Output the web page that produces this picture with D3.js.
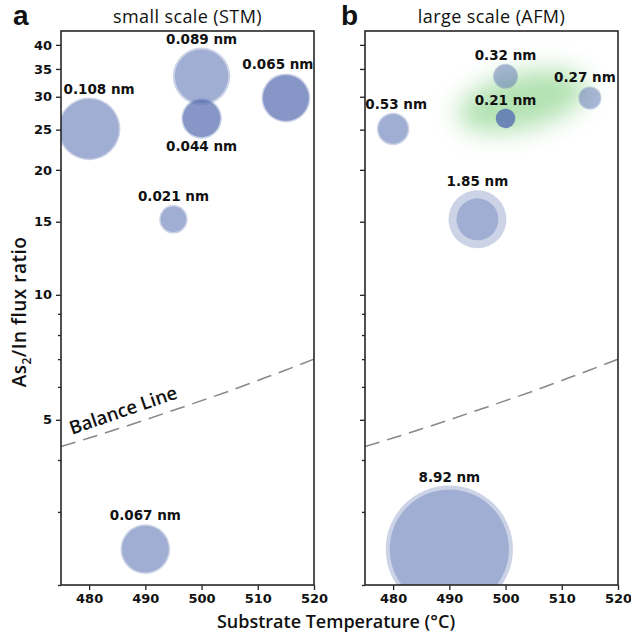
<!DOCTYPE html>
<html>
<head>
<meta charset="utf-8">
<script src="https://cdn.jsdelivr.net/npm/d3@7"></script>
<style>
  body { margin: 0; background: #fff; }
  .tick text { font-family: "DejaVu Sans", sans-serif; font-weight: bold; font-size: 13px; fill: #111; }
  .domain { display: none; }
  .ptlabel { font-family: "DejaVu Sans", sans-serif; font-weight: bold; font-size: 13.5px; fill: #111; }
</style>
</head>
<body>
<div id="chart"></div>
<script>

// Data: growth temperature, flux ratio, roughness (nm)
var stmTemp  = [480, 500, 500, 515, 495, 490];
var stmRatio = [25.1, 33.6, 26.6, 29.8, 15.2, 2.44];
var stmRough = [0.108, 0.089, 0.044, 0.065, 0.021, 0.067];

var afmTemp  = [480, 500, 500, 515, 495, 490];
var afmRatio = [25.1, 33.6, 26.6, 29.8, 15.2, 2.44];
var afmRough = [0.53, 0.32, 0.21, 0.27, 1.85, 8.92];

// balance line (flux ratio vs temperature)
var balanceTemp  = [475, 480, 485, 490, 495, 500, 505, 510, 515, 520];
var balanceRatio = [4.31, 4.52, 4.75, 5.00, 5.27, 5.56, 5.87, 6.22, 6.59, 7.00];

var xTicks = [480, 490, 500, 510, 520];
var yMajor = [5, 10, 15, 20, 25, 30, 35, 40];
var yMinor = [2, 3, 4, 6, 7, 8, 9];


// --> CREATE SVG DRAWING AREA
var width = 631,
    height = 636,
    top_y = 31,
    bottom_y = 585;

var svg = d3.select("#chart").append("svg")
    .attr("width", width)
    .attr("height", height);

var defs = svg.append("defs");
defs.append("filter")
    .attr("id", "blur")
    .attr("x", "-50%").attr("y", "-80%")
    .attr("width", "200%").attr("height", "260%")
    .append("feGaussianBlur")
    .attr("stdDeviation", 12);

var BLUE = "#576eb1";

var y = d3.scaleLog()
    .domain([2, 43.2])
    .range([bottom_y, top_y]);

// panel setup, with a few label nudges and looks per point
var panels = [
    { letter: "a", title: "small scale (STM)", left: 61, right: 314,
      temp: stmTemp, ratio: stmRatio, rough: stmRough, rmax: 30.6, labels: true,
      dx: [10, 0, 0, -8, 0, 0], below: [false, false, true, false, false, false],
      alpha: [0.37, 0.37, 0.6, 0.6, 0.37, 0.37], halo: [1.5, 2, 1.5, 1.5, 1.5, 1.5] },
    { letter: "b", title: "large scale (AFM)", left: 365, right: 618,
      temp: afmTemp, ratio: afmRatio, rough: afmRough, rmax: 63.6, labels: false,
      dx: [3, 0, 0, -5, 0, 0], below: [false, false, false, false, false, false],
      alpha: [0.37, 0.28, 0.8, 0.28, 0.37, 0.37], halo: [1.5, 1, 0, 1, 8, 4] }
];

panels.forEach(function(p, pi) { drawPanel(p, pi); });

function drawPanel(p, pi) {

    var x = d3.scaleLinear()
        .domain([475, 520])
        .range([p.left, p.right]);

    var r = d3.scaleSqrt()
        .domain([0, d3.max(p.rough)])
        .range([0, p.rmax]);

    var g = svg.append("g").attr("class", "panel");

    defs.append("clipPath")
        .attr("id", "clip" + pi)
        .append("rect")
        .attr("x", p.left).attr("y", top_y)
        .attr("width", p.right - p.left).attr("height", bottom_y - top_y);

    var plot = g.append("g").attr("clip-path", "url(#clip" + pi + ")");

    // green highlight on the AFM panel
    if (pi === 1) {
        plot.append("ellipse")
            .attr("cx", x(503))
            .attr("cy", y(29.3))
            .attr("rx", 66)
            .attr("ry", 28)
            .attr("transform", "rotate(-14," + x(503) + "," + y(29.3) + ")")
            .attr("fill", "#6cc76c")
            .attr("opacity", 0.52)
            .attr("filter", "url(#blur)");
    }

    // balance line
    var line = d3.line()
        .x(function(d) { return x(d[0]); })
        .y(function(d) { return y(d[1]); })
        .curve(d3.curveMonotoneX);

    var bal = balanceTemp.map(function(t, i) { return [t, balanceRatio[i]]; });

    plot.append("path")
        .datum(bal)
        .attr("d", line)
        .attr("fill", "none")
        .attr("stroke", "#888")
        .attr("stroke-width", 1.5)
        .attr("stroke-dasharray", "15,8");

    if (p.labels) {
        var x0 = x(476.6), y0 = y(4.45);
        var ang = Math.atan2(y(7.0) - y(4.31), x(520) - x(475)) * 180 / Math.PI;
        g.append("text")
            .attr("transform", "translate(" + (x0 + 2) + "," + (y0 - 6) + ") rotate(" + ang + ")")
            .style("font-family", "'Open Sans', sans-serif")
            .style("font-size", "18.5px")
            .style("font-weight", 600)
            .style("fill", "#111")
            .text("Balance Line");
    }

    // bubbles
    var pts = p.temp.map(function(t, i) {
        return { t: t, v: p.ratio[i], s: p.rough[i], i: i };
    });

    var bubble = plot.selectAll(".bubble")
        .data(pts)
        .enter().append("g")
        .attr("class", "bubble");

    bubble.filter(function(d) { return p.halo[d.i] > 0; })
        .append("circle")
        .attr("cx", function(d) { return x(d.t); })
        .attr("cy", function(d) { return y(d.v); })
        .attr("r", function(d) { return p.halo[d.i] > 3 ? r(d.s) : r(d.s) + p.halo[d.i] / 2; })
        .attr("fill", BLUE)
        .attr("fill-opacity", 0.3);

    bubble.append("circle")
        .attr("cx", function(d) { return x(d.t); })
        .attr("cy", function(d) { return y(d.v); })
        .attr("r", function(d) {
            var h = p.halo[d.i];
            return h > 3 ? r(d.s) - h : r(d.s) - h / 2;
        })
        .attr("fill", BLUE)
        .attr("fill-opacity", function(d) { return p.alpha[d.i]; });

    // labels
    g.selectAll(".ptlabel")
        .data(pts)
        .enter().append("text")
        .attr("class", "ptlabel")
        .attr("text-anchor", "middle")
        .attr("x", function(d) { return x(d.t) + p.dx[d.i]; })
        .attr("y", function(d) {
            var rr = r(d.s) + (p.halo[d.i] > 3 ? 0 : p.halo[d.i] / 2);
            return p.below[d.i] ? y(d.v) + rr + 12 : y(d.v) - rr - 4;
        })
        .text(function(d) { return d.s + " nm"; });

    // axes
    var xAxis = d3.axisBottom(x)
        .tickValues(xTicks)
        .tickSize(5)
        .tickPadding(4)
        .tickFormat(d3.format("d"));

    g.append("g")
        .attr("transform", "translate(0," + bottom_y + ")")
        .call(xAxis);

    var yAxis = d3.axisLeft(y)
        .tickValues(yMajor)
        .tickSize(5)
        .tickPadding(4)
        .tickFormat(p.labels ? d3.format("d") : "");

    g.append("g")
        .attr("transform", "translate(" + p.left + ",0)")
        .call(yAxis);

    var yMinorAxis = d3.axisLeft(y)
        .tickValues(yMinor)
        .tickSize(3)
        .tickFormat("");

    g.append("g")
        .attr("transform", "translate(" + p.left + ",0)")
        .call(yMinorAxis);

    g.selectAll(".tick line")
        .attr("stroke", "#222")
        .attr("stroke-width", 1.3);

    // frame
    g.append("rect")
        .attr("x", p.left).attr("y", top_y)
        .attr("width", p.right - p.left).attr("height", bottom_y - top_y)
        .attr("fill", "none")
        .attr("stroke", "#262626")
        .attr("stroke-width", 1.6);

    // title + panel letter
    g.append("text")
        .attr("x", (p.left + p.right) / 2)
        .attr("y", 23)
        .attr("text-anchor", "middle")
        .style("font-family", "'Open Sans', sans-serif")
        .style("font-size", "18px")
        .style("letter-spacing", "0.4px")
        .style("fill", "#111")
        .text(p.title);

    g.append("text")
        .attr("x", p.left - 48 + (pi === 1 ? 24 : 0))
        .attr("y", 25)
        .style("font-family", "'Liberation Sans', Arial, sans-serif")
        .style("font-weight", "bold")
        .style("font-size", "28px")
        .style("fill", "#111")
        .text(p.letter);
}

// axis titles
svg.append("text")
    .attr("x", 336)
    .attr("y", 628)
    .attr("text-anchor", "middle")
    .style("font-family", "'Open Sans', sans-serif")
    .style("font-size", "18px")
    .style("font-weight", 600)
    .style("fill", "#111")
    .text("Substrate Temperature (°C)");

var ylab = svg.append("text")
    .attr("transform", "translate(26,312) rotate(-90)")
    .attr("text-anchor", "middle")
    .style("font-family", "'Open Sans', sans-serif")
    .style("font-size", "19px")
    .style("letter-spacing", "0.5px")
    .style("font-weight", 600)
    .style("fill", "#111");

ylab.append("tspan").text("As");
ylab.append("tspan").attr("dy", 5).style("font-size", "12px").text("2");
ylab.append("tspan").attr("dy", -5).text("/In flux ratio");

</script>
</body>
</html>
